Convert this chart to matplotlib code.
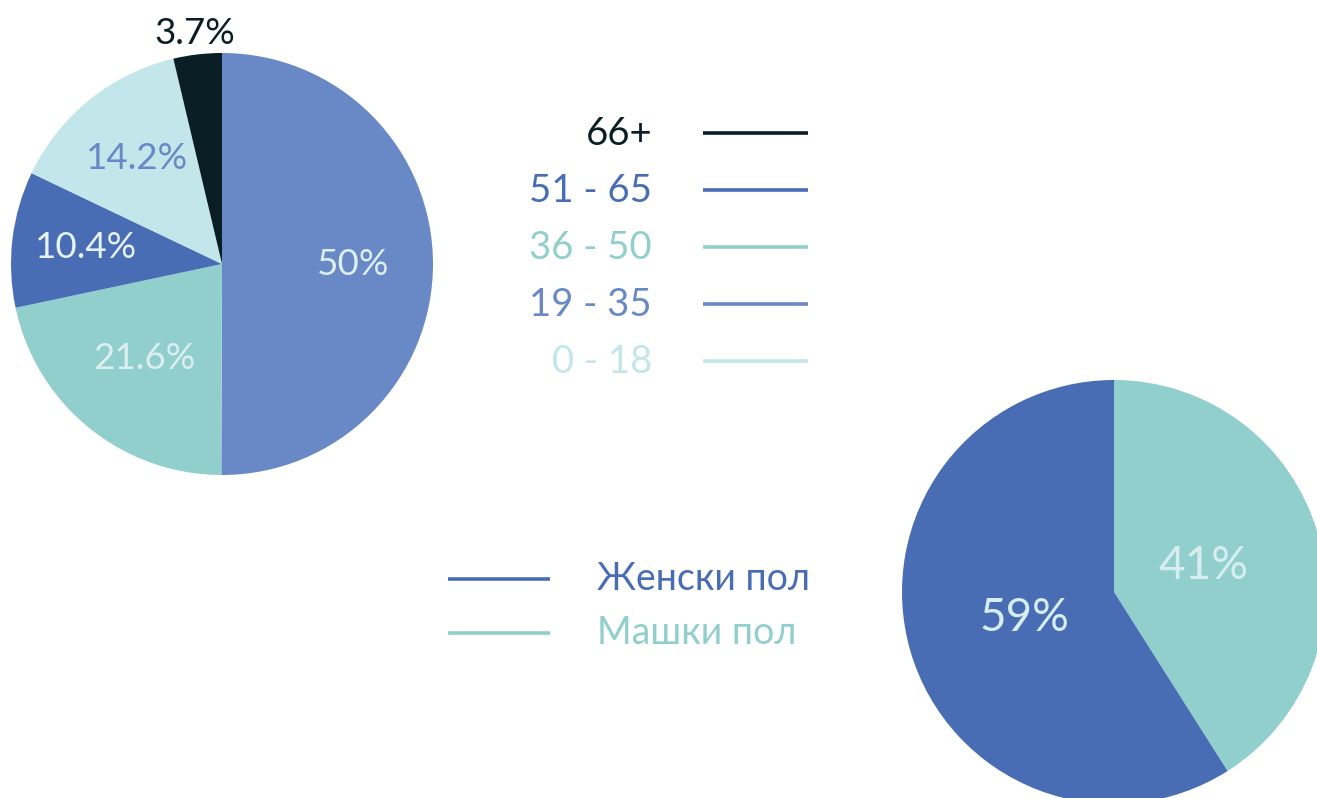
import numpy as np
import matplotlib
matplotlib.use("Agg")
import matplotlib.pyplot as plt

plt.rcParams['font.family'] = ['Lato', 'DejaVu Sans']

# ---- data ----
age_labels = ["19 - 35", "36 - 50", "51 - 65", "0 - 18", "66+"]
age_values = [50, 21.6, 10.4, 14.2, 3.7]
age_colors = ["#6889C6", "#91CFCD", "#486DB4", "#C3E6EA", "#0A1E26"]
age_text_colors = ["#DDEEF0", "#DDEEF0", "#E6F2F4", "#6889C6", "#0A1E26"]
age_label_dist = [0.62, 0.58, 0.65, 0.64, 1.10]

legend_age_order = ["66+", "51 - 65", "36 - 50", "19 - 35", "0 - 18"]

gender_labels = ["Машки пол", "Женски пол"]
gender_values = [41, 59]
gender_colors = ["#91CFCD", "#486DB4"]
gender_text_color = "#D8EDEF"

W, H = 1317, 798
fig = plt.figure(figsize=(W / 100, H / 100), dpi=100)
ax = fig.add_axes([0, 0, 1, 1])


def fmt(v):
    return f"{v:g}%"


# ---- age pie ----
c1 = (222, H - 264)
r1 = 211
wedges1, _ = ax.pie(age_values, colors=age_colors, startangle=90, counterclock=False,
                    center=c1, radius=r1, wedgeprops=dict(linewidth=0))
for w, v, tc, d in zip(wedges1, age_values, age_text_colors, age_label_dist):
    ang = np.deg2rad((w.theta1 + w.theta2) / 2)
    x = c1[0] + d * r1 * np.cos(ang)
    y = c1[1] + d * r1 * np.sin(ang)
    ax.text(x, y, fmt(v), color=tc, fontsize=26.5, ha="center", va="center")

# ---- gender pie ----
c2 = (1114, H - 592)
r2 = 212
wedges2, _ = ax.pie(gender_values, colors=gender_colors, startangle=90, counterclock=False,
                    center=c2, radius=r2, wedgeprops=dict(linewidth=0))
for w, v in zip(wedges2, gender_values):
    ang = np.deg2rad((w.theta1 + w.theta2) / 2)
    x = c2[0] + 0.44 * r2 * np.cos(ang)
    y = c2[1] + 0.44 * r2 * np.sin(ang)
    ax.text(x, y, fmt(v), color=gender_text_color, fontsize=33, ha="center", va="center")

# ---- age legend ----
col_map = dict(zip(age_labels, age_colors))
for i, lab in enumerate(legend_age_order):
    y = H - (133 + i * 57)
    ax.text(652, y - 1, lab, color=col_map[lab], fontsize=27.5, ha="right", va="center")
    ax.plot([703, 808], [y, y], color=col_map[lab], lw=2.6, solid_capstyle="butt")

# ---- gender legend ----
gcol = dict(zip(gender_labels, gender_colors))
for i, lab in enumerate(["Женски пол", "Машки пол"]):
    y = H - (579 + i * 54)
    ax.plot([448, 550], [y, y], color=gcol[lab], lw=2.6, solid_capstyle="butt")
    ax.text(597, y, lab, color=gcol[lab], fontsize=27, ha="left", va="center")

ax.set_xlim(0, W)
ax.set_ylim(0, H)
ax.set_aspect("equal")
ax.axis("off")
fig.savefig("out.png", dpi=100, facecolor="white")
